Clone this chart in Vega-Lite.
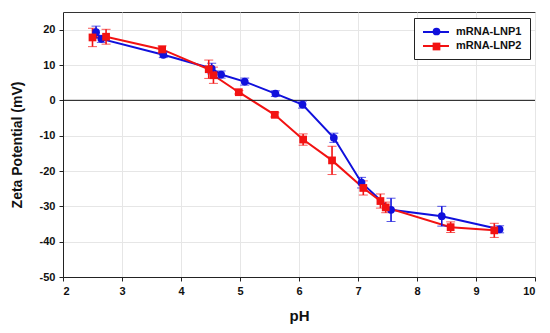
{
  "$schema": "https://vega.github.io/schema/vega-lite/v6.json",
  "width": 472,
  "height": 265,
  "autosize": {"type": "none"},
  "padding": {"left": 63, "top": 12, "right": 15, "bottom": 56},
  "config": {
    "font": "Liberation Sans",
    "view": {"stroke": "#333333", "strokeWidth": 1},
    "axis": {
      "labelFont": "Liberation Sans",
      "labelFontSize": 11,
      "labelFontWeight": "bold",
      "labelColor": "#111111",
      "titleFont": "Liberation Sans",
      "titleFontWeight": "bold",
      "titleColor": "#111111",
      "domainColor": "#222222",
      "tickColor": "#222222",
      "tickSize": 4,
      "gridColor": "#e6e6e6",
      "gridWidth": 1,
      "labelOverlap": false
    }
  },
  "data": {
    "values": [
      {"series": "mRNA-LNP1", "ph": 2.56, "zeta": 19.3, "err": 1.7},
      {"series": "mRNA-LNP1", "ph": 2.65, "zeta": 17.4, "err": 1.0},
      {"series": "mRNA-LNP1", "ph": 3.70, "zeta": 12.9, "err": 0.8},
      {"series": "mRNA-LNP1", "ph": 4.52, "zeta": 9.0, "err": 1.5},
      {"series": "mRNA-LNP1", "ph": 4.68, "zeta": 7.3, "err": 1.0},
      {"series": "mRNA-LNP1", "ph": 5.08, "zeta": 5.3, "err": 1.0},
      {"series": "mRNA-LNP1", "ph": 5.60, "zeta": 1.9, "err": 0.8},
      {"series": "mRNA-LNP1", "ph": 6.06, "zeta": -1.2, "err": 1.0},
      {"series": "mRNA-LNP1", "ph": 6.59, "zeta": -10.6, "err": 1.3},
      {"series": "mRNA-LNP1", "ph": 7.06, "zeta": -23.3, "err": 1.5},
      {"series": "mRNA-LNP1", "ph": 7.56, "zeta": -31.0, "err": 3.3},
      {"series": "mRNA-LNP1", "ph": 8.42, "zeta": -32.8, "err": 2.8},
      {"series": "mRNA-LNP1", "ph": 9.40, "zeta": -36.5, "err": 1.0},
      {"series": "mRNA-LNP2", "ph": 2.50, "zeta": 17.8, "err": 2.6},
      {"series": "mRNA-LNP2", "ph": 2.73, "zeta": 18.0, "err": 2.1},
      {"series": "mRNA-LNP2", "ph": 3.68, "zeta": 14.4, "err": 1.0},
      {"series": "mRNA-LNP2", "ph": 4.47, "zeta": 8.8, "err": 2.6},
      {"series": "mRNA-LNP2", "ph": 4.55, "zeta": 7.1, "err": 2.3},
      {"series": "mRNA-LNP2", "ph": 4.98, "zeta": 2.3, "err": 0.5},
      {"series": "mRNA-LNP2", "ph": 5.59, "zeta": -4.1, "err": 0.6},
      {"series": "mRNA-LNP2", "ph": 6.07, "zeta": -11.1, "err": 1.6},
      {"series": "mRNA-LNP2", "ph": 6.56, "zeta": -17.0, "err": 4.0},
      {"series": "mRNA-LNP2", "ph": 7.09, "zeta": -24.8, "err": 2.0},
      {"series": "mRNA-LNP2", "ph": 7.38, "zeta": -28.5, "err": 2.0},
      {"series": "mRNA-LNP2", "ph": 7.47, "zeta": -30.3, "err": 1.5},
      {"series": "mRNA-LNP2", "ph": 8.57, "zeta": -35.9, "err": 1.5},
      {"series": "mRNA-LNP2", "ph": 9.31, "zeta": -36.8, "err": 2.0}
    ]
  },
  "resolve": {"legend": {"color": "independent", "shape": "independent"}},
  "layer": [
    {
      "mark": {"type": "line", "strokeWidth": 2},
      "encoding": {
        "x": {
          "field": "ph", "type": "quantitative",
          "scale": {"domain": [2, 10], "nice": false, "zero": false},
          "axis": {"values": [2, 3, 4, 5, 6, 7, 8, 9, 10], "title": "pH", "titleFontSize": 15, "titlePadding": 12, "labelPadding": 4}
        },
        "y": {
          "field": "zeta", "type": "quantitative",
          "scale": {"domain": [-50, 25], "nice": false, "zero": false},
          "axis": {"values": [-50, -40, -30, -20, -10, 0, 10, 20], "title": "Zeta Potential (mV)", "titleFontSize": 14, "titlePadding": 15, "labelPadding": 4, "labelExpr": "'' + datum.value"}
        },
        "order": {"field": "ph", "type": "quantitative"},
        "color": {
          "field": "series", "type": "nominal",
          "scale": {"domain": ["mRNA-LNP1", "mRNA-LNP2"], "range": ["#1010dc", "#f21212"]},
          "legend": {
            "title": null, "orient": "none", "legendX": 351, "legendY": 6,
            "symbolType": "M-1,0H4.2", "symbolSize": 100, "symbolStrokeWidth": 2,
            "labelFontSize": 11, "labelFontWeight": "bold", "labelFont": "Liberation Sans", "labelColor": "#111111",
            "labelOffset": 22, "rowPadding": 3, "padding": 8,
            "strokeColor": "#222222", "fillColor": "white", "zindex": 1
          }
        }
      }
    },
    {
      "data": {"values": [{}]},
      "mark": {"type": "rule", "color": "#111111", "strokeWidth": 1},
      "encoding": {
        "y": {"datum": 0, "type": "quantitative", "scale": {"domain": [-50, 25], "nice": false, "zero": false}, "axis": {"values": [-50, -40, -30, -20, -10, 0, 10, 20], "title": "Zeta Potential (mV)", "titleFontSize": 14, "titlePadding": 15, "labelPadding": 4, "labelExpr": "'' + datum.value"}}
      }
    },
    {
      "mark": {"type": "errorbar", "ticks": {"size": 9, "strokeWidth": 1.6}, "rule": {"strokeWidth": 1.6}},
      "encoding": {
        "x": {
          "field": "ph", "type": "quantitative",
          "scale": {"domain": [2, 10], "nice": false, "zero": false},
          "axis": {"values": [2, 3, 4, 5, 6, 7, 8, 9, 10], "title": "pH", "titleFontSize": 15, "titlePadding": 12, "labelPadding": 4}
        },
        "y": {
          "field": "zeta", "type": "quantitative",
          "scale": {"domain": [-50, 25], "nice": false, "zero": false},
          "axis": {"values": [-50, -40, -30, -20, -10, 0, 10, 20], "title": "Zeta Potential (mV)", "titleFontSize": 14, "titlePadding": 15, "labelPadding": 4, "labelExpr": "'' + datum.value"}
        },
        "yError": {"field": "err"},
        "color": {"field": "series", "type": "nominal", "legend": null}
      }
    },
    {
      "mark": {"type": "point", "filled": true, "size": 60, "opacity": 1},
      "encoding": {
        "x": {
          "field": "ph", "type": "quantitative",
          "scale": {"domain": [2, 10], "nice": false, "zero": false},
          "axis": {"values": [2, 3, 4, 5, 6, 7, 8, 9, 10], "title": "pH", "titleFontSize": 15, "titlePadding": 12, "labelPadding": 4}
        },
        "y": {
          "field": "zeta", "type": "quantitative",
          "scale": {"domain": [-50, 25], "nice": false, "zero": false},
          "axis": {"values": [-50, -40, -30, -20, -10, 0, 10, 20], "title": "Zeta Potential (mV)", "titleFontSize": 14, "titlePadding": 15, "labelPadding": 4, "labelExpr": "'' + datum.value"}
        },
        "color": {
          "field": "series", "type": "nominal",
          "legend": {
            "title": null, "orient": "none", "legendX": 360, "legendY": 6,
            "symbolSize": 60,
            "labelFontSize": 11, "labelFontWeight": "bold", "labelFont": "Liberation Sans", "labelExpr": "''",
            "labelOffset": 22, "rowPadding": 3, "padding": 8, "zindex": 2
          }
        },
        "shape": {
          "field": "series", "type": "nominal",
          "scale": {"domain": ["mRNA-LNP1", "mRNA-LNP2"], "range": ["circle", "square"]},
          "legend": {
            "title": null, "orient": "none", "legendX": 360, "legendY": 6,
            "symbolSize": 60,
            "labelFontSize": 11, "labelFontWeight": "bold", "labelFont": "Liberation Sans", "labelExpr": "''",
            "labelOffset": 22, "rowPadding": 3, "padding": 8, "zindex": 2
          }
        }
      }
    }
  ]
}
